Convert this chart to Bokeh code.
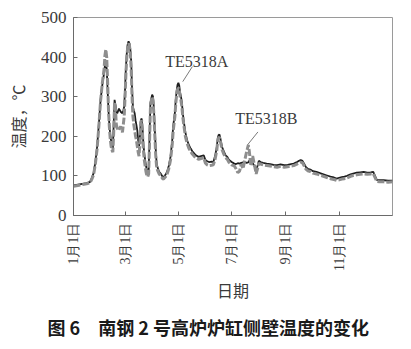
import math
from bokeh.plotting import figure
from bokeh.models import FixedTicker, Range1d, Title, Label, ColumnDataSource
from bokeh.embed import file_html
from bokeh.resources import INLINE

# ---- data (day of year, temperature in deg C) ----
days = [0, 5, 10, 15, 19, 21, 23, 25, 27, 29,
        31, 33, 35, 36, 37, 38, 39, 40, 41, 42,
        43, 44, 45, 46, 47, 48, 49, 50, 52, 54,
        56, 57, 58, 59, 60, 61, 62, 63, 64, 65,
        66, 67, 68, 69, 70, 71, 72, 73, 74, 75,
        76, 77, 78, 79, 80, 81, 82, 83, 84, 85,
        86, 87, 88, 89, 90, 91, 92, 93, 94, 95,
        96, 98, 100, 102, 103, 105, 107, 109, 111, 113,
        114, 116, 117, 118, 119, 120, 121, 122, 123, 124,
        125, 126, 128, 130, 132, 134, 136, 138, 140, 143,
        146, 149, 151, 153, 155, 158, 160, 162, 164, 165,
        166, 167, 168, 170, 172, 174, 176, 178, 181, 184,
        186, 188, 190, 192, 194, 196, 198, 200, 201, 203,
        205, 207, 209, 211, 212, 214, 217, 221, 225, 229,
        233, 237, 241, 245, 249, 252, 255, 258, 260, 262,
        264, 266, 268, 271, 274, 278, 282, 286, 290, 294,
        298, 301, 304, 307, 310, 313, 317, 320, 324, 328,
        332, 336, 340, 343, 345, 347, 350, 355, 360, 365]

te5318a = [76, 78, 80, 82, 85, 95, 107, 135, 173, 230,
           292, 330, 360, 380, 386, 370, 320, 266, 230, 205,
           190, 180, 170, 230, 292, 280, 262, 258, 270, 262,
           258, 265, 275, 320, 376, 410, 432, 440, 435, 420,
           390, 320, 275, 265, 258, 240, 228, 215, 190, 175,
           200, 240, 245, 220, 180, 157, 140, 125, 114, 108,
           110, 200, 284, 295, 305, 300, 270, 220, 170, 135,
           123, 110, 105, 98, 97, 102, 110, 125, 148, 190,
           224, 260, 292, 315, 330, 335, 328, 310, 300, 285,
           260, 241, 210, 190, 178, 169, 162, 157, 152, 148,
           150, 152, 140, 137, 135, 136, 135, 150, 173, 195,
           203, 205, 195, 173, 162, 152, 148, 140, 135, 131,
           130, 132, 131, 133, 134, 135, 133, 134, 138, 144,
           132, 125, 115, 128, 138, 135, 133, 131, 130, 128,
           127, 129, 127, 128, 130, 131, 134, 138, 140, 138,
           130, 122, 118, 116, 112, 110, 107, 104, 101, 98,
           96, 93, 95, 97, 98, 100, 104, 106, 108, 109,
           110, 108, 109, 110, 100, 90, 89, 89, 88, 88]

te5318b = [74, 76, 78, 80, 83, 92, 103, 130, 168, 225,
           290, 335, 370, 405, 419, 400, 340, 270, 225, 195,
           175, 165, 160, 210, 285, 270, 230, 220, 215, 225,
           210, 230, 250, 300, 360, 400, 425, 435, 430, 410,
           370, 300, 250, 230, 215, 200, 190, 175, 160, 150,
           185, 235, 240, 205, 165, 140, 125, 110, 100, 98,
           105, 185, 270, 290, 300, 290, 255, 205, 155, 125,
           115, 105, 100, 93, 92, 97, 104, 118, 140, 180,
           212, 250, 282, 305, 318, 322, 318, 300, 290, 275,
           250, 232, 200, 182, 170, 162, 155, 150, 146, 142,
           144, 146, 132, 128, 126, 127, 128, 142, 165, 188,
           196, 198, 188, 166, 155, 146, 142, 134, 128, 125,
           118, 108, 112, 130, 118, 140, 160, 178, 165, 125,
           150, 128, 105, 122, 132, 130, 128, 126, 125, 123,
           122, 124, 122, 123, 125, 126, 129, 133, 135, 133,
           125, 117, 113, 111, 107, 105, 102, 99, 96, 93,
           91, 89, 90, 92, 93, 95, 99, 101, 103, 104,
           105, 104, 105, 106, 96, 86, 85, 85, 84, 85]

tick_days = [0, 59, 120, 181, 243, 304]
tick_labels = ["1月1日", "3月1日", "5月1日", "7月1日", "9月1日", "11月1日"]
y_ticks = [0, 100, 200, 300, 400, 500]

SERIF = "Liberation Serif"
CJK = "Noto Sans CJK SC"
TXT = "#3a3a3a"

p = figure(width=411, height=349, output_backend="svg", toolbar_location=None,
           x_range=Range1d(0, 365), y_range=Range1d(0, 500),
           min_border_left=73, min_border_right=19, min_border_top=17,
           min_border_bottom=134)
p.grid.visible = False
p.outline_line_color = "#9a9a9a"
p.outline_line_width = 1
p.background_fill_color = "white"
p.border_fill_color = "white"

# series
p.line(days, te5318a, line_color="#1e1e1e", line_width=1.8)
p.line(days, te5318b, line_color="#8e8e8e", line_width=3, line_dash="7 2")

# axes
p.yaxis.ticker = FixedTicker(ticks=y_ticks)
p.xaxis.ticker = FixedTicker(ticks=tick_days)
p.xaxis.major_label_overrides = {d: s for d, s in zip(tick_days, tick_labels)}
p.xaxis.major_label_orientation = math.pi / 2
for ax in (p.xaxis, p.yaxis):
    ax.major_tick_in = 4
    ax.major_tick_out = 0
    ax.minor_tick_line_color = None
    ax.axis_line_color = "#6a6a6a"
    ax.major_tick_line_color = "#6a6a6a"
    ax.major_label_text_color = TXT
    ax.axis_label_text_color = TXT
    ax.axis_label_text_font_style = "normal"

p.yaxis.major_label_text_font = SERIF
p.yaxis.major_label_text_font_size = "17px"
p.yaxis.major_label_standoff = 7
p.yaxis.axis_label = "温度，℃"
p.yaxis.axis_label_text_font = CJK
p.yaxis.axis_label_text_font_size = "16px"
p.yaxis.axis_label_standoff = 8

p.xaxis.major_label_text_font = SERIF
p.xaxis.major_label_text_font_size = "14px"
p.xaxis.major_label_standoff = 7
p.xaxis.axis_label = "日期"
p.xaxis.axis_label_text_font = CJK
p.xaxis.axis_label_text_font_size = "16px"
p.xaxis.axis_label_standoff = 4

# annotations
p.add_layout(Label(x=105, y=388, text="TE5318A", text_font=SERIF, text_font_size="16px",
                   text_color=TXT, text_baseline="middle", text_align="left"))
p.add_layout(Label(x=185, y=246, text="TE5318B", text_font=SERIF, text_font_size="16px",
                   text_color=TXT, text_baseline="middle", text_align="left"))
lead = ColumnDataSource(dict(x0=[136, 211], y0=[376, 211], x1=[125, 199], y1=[338, 178]))
p.segment("x0", "y0", "x1", "y1", source=lead, line_color="#7a7a7a", line_width=1)

cap = Title(text="图 6　南钢 2 号高炉炉缸侧壁温度的变化", align="left",
            text_font=CJK, text_font_size="18px", text_font_style="bold",
            text_color="#1a1a1a", offset=-26, standoff=14)
p.add_layout(cap, "below")

open("out.html", "w").write(file_html(p, INLINE))
